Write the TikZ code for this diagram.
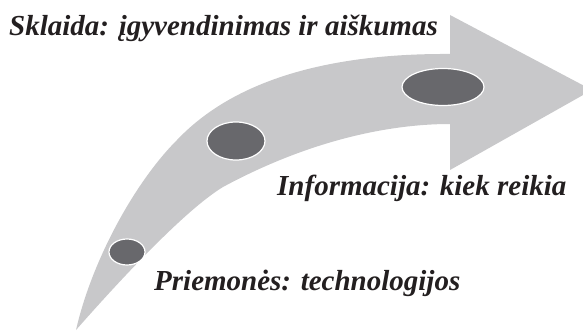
\documentclass[tikz,border=0pt]{standalone}
\usepackage{fontspec}
\setmainfont{Liberation Serif}
\usetikzlibrary{shapes.geometric}
\definecolor{arrowgray}{RGB}{200,200,202}
\definecolor{dotgray}{RGB}{104,104,108}
\definecolor{inkblack}{RGB}{35,31,32}
\begin{document}
\begin{tikzpicture}[x=1pt, y=-1pt,
        stagetext/.style={anchor=base west, inner sep=0pt, font=\fontsize{29}{32}\selectfont\bfseries\itshape, text=inkblack},
        stagedot/.style={ellipse, draw=white, line width=1.2pt, fill=dotgray, inner sep=0pt}]
        \useasboundingbox (0,0) rectangle (583,331);
        \clip (0,0) rectangle (583,331);
        % curved arrow
        \fill[arrowgray] (76,330) .. controls (92,260) and (135,182) .. (177,140)
            .. controls (215,100) and (290,53) .. (450,54)
            -- (450,15) -- (592,90) -- (450,170) -- (450,124)
            .. controls (390,124) and (310,140) .. (223,187)
            .. controls (185,210) and (120,280) .. (76,330) -- cycle;
        
        \node (dotsmall) [stagedot, minimum width=36pt, minimum height=26pt] at (127,252) {};
        \node (dotmid) [stagedot, minimum width=58pt, minimum height=38pt] at (236,141) {};
        \node (dotbig) [stagedot, minimum width=82pt, minimum height=37pt] at (443,87) {};
        
        \node (sklaida) [stagetext] at (9,36) {Sklaida: įgyvendinimas ir aiškumas};
        \node (informacija) [stagetext] at (277,195) {Informacija: kiek reikia};
        \node (priemones) [stagetext] at (154,290) {Priemonės: technologijos};
    \end{tikzpicture}
\end{document}
